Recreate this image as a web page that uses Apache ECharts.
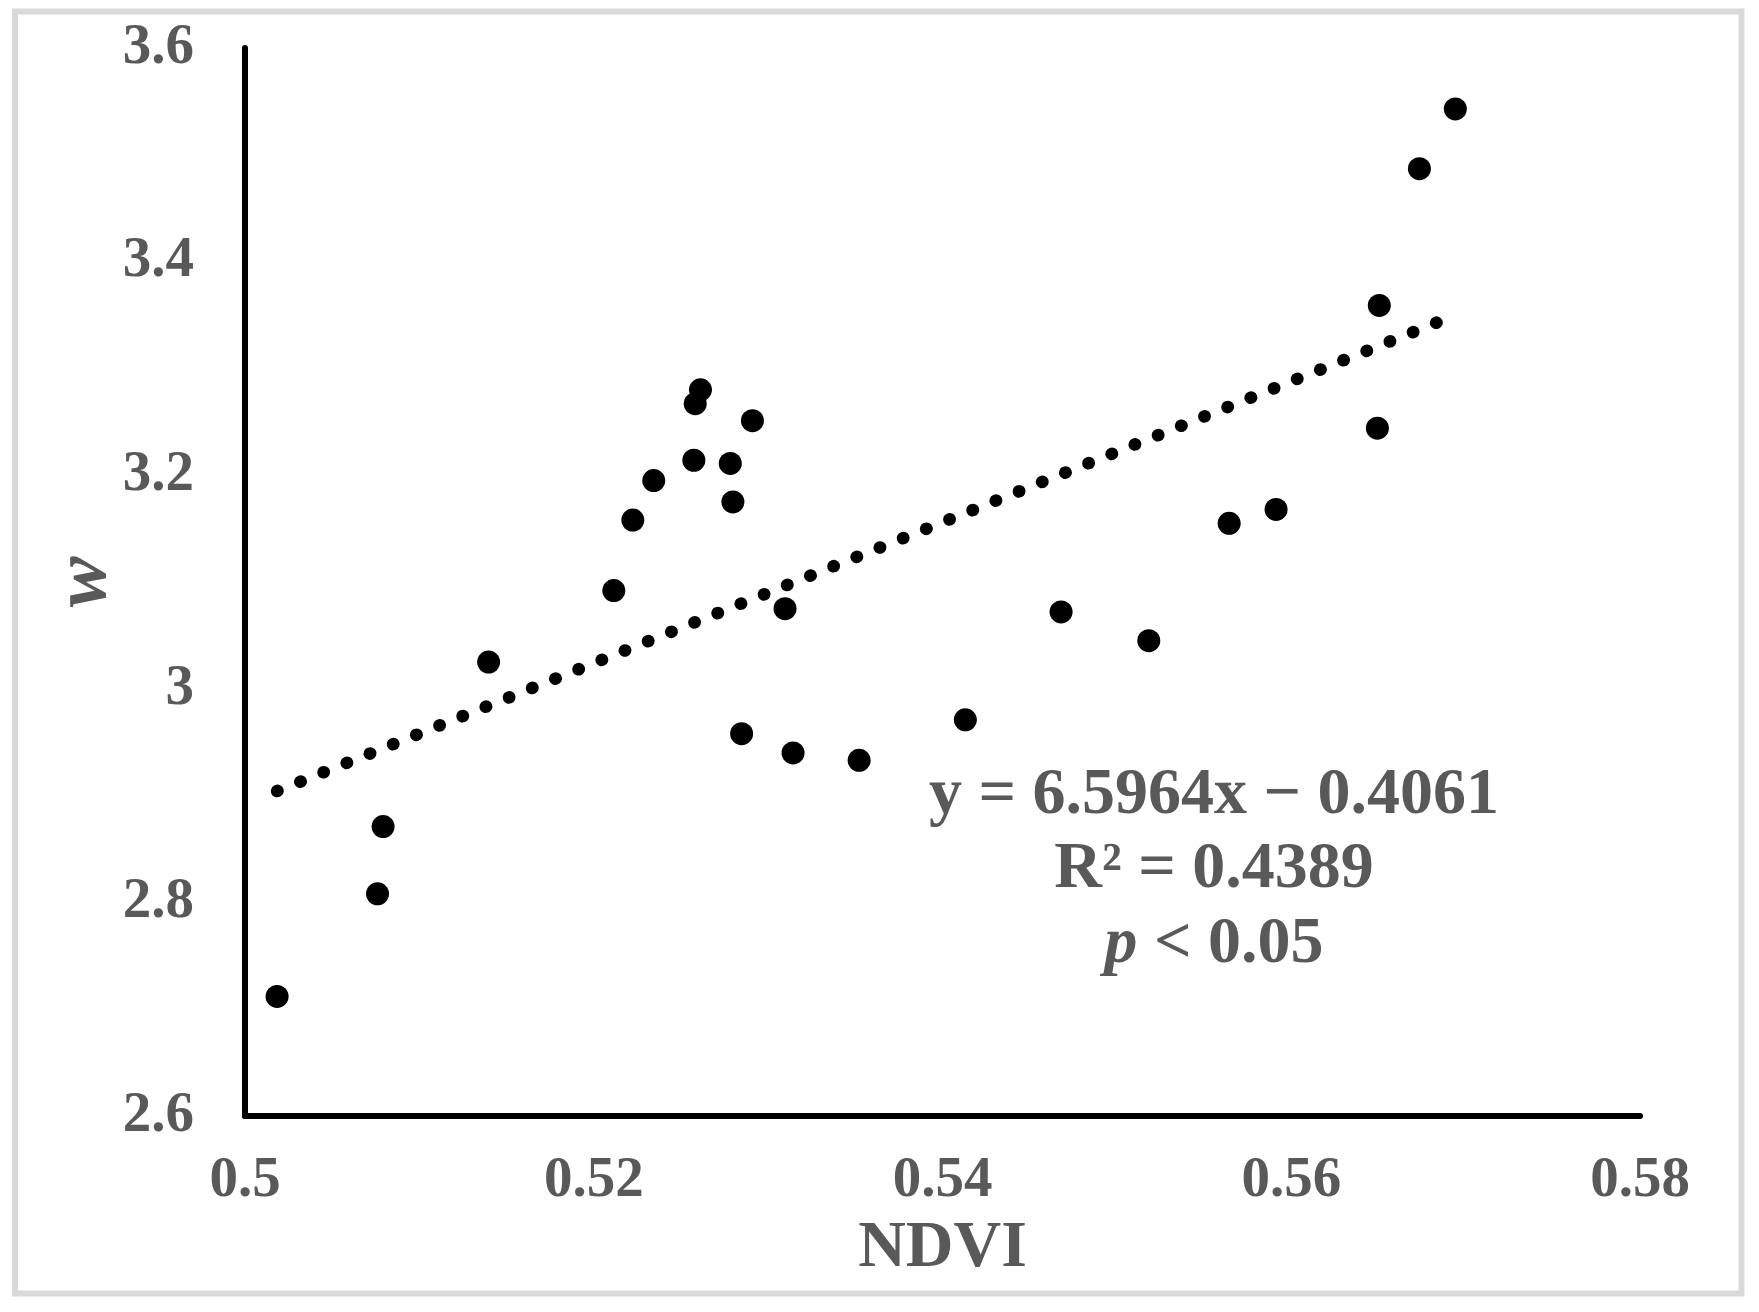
<!DOCTYPE html>
<html>
<head>
<meta charset="utf-8">
<script src="https://cdn.jsdelivr.net/npm/echarts@6/dist/echarts.min.js"></script>
<style>
  html, body { margin: 0; padding: 0; background: #ffffff; }
  #chart { width: 1759px; height: 1312px; }
</style>
</head>
<body>
<div id="chart"></div>
<script>
// ---- data ----
const ndvi = [0.50184, 0.50760, 0.50792, 0.51397, 0.52115, 0.52224, 0.52344, 0.52574, 0.52582, 0.52612,
              0.52783, 0.52798, 0.52848, 0.52910, 0.53097, 0.53143, 0.53522, 0.54131, 0.54680, 0.55183,
              0.55644, 0.55913, 0.56494, 0.56505, 0.56735, 0.56941];
const wValues = [2.712, 2.808, 2.871, 3.025, 3.092, 3.158, 3.195, 3.214, 3.267, 3.280,
                 3.211, 3.175, 2.958, 3.251, 3.075, 2.940, 2.933, 2.971, 3.072, 3.045,
                 3.155, 3.168, 3.244, 3.359, 3.487, 3.543];
const xTicks = [0.5, 0.52, 0.54, 0.56, 0.58];
const yTicks = [2.6, 2.8, 3.0, 3.2, 3.4, 3.6];
const slope = 6.5964;
const intercept = -0.4061;
const annotationLines = ['y = 6.5964x \u2212 0.4061', 'R\u00b2 = 0.4389', '{i|p} < 0.05'];
const xName = 'NDVI';
const yName = 'w';

// ---- build ----
const points = ndvi.map((x, i) => [x, wValues[i]]);
const xMin = Math.min(...ndvi), xMax = Math.max(...ndvi);
const trend = [[xMin, slope * xMin + intercept], [xMax, slope * xMax + intercept]];

const FONT = '"Liberation Serif", "Times New Roman", serif';
const GREY = '#595959';

const chart = echarts.init(document.getElementById('chart'), null, { renderer: 'canvas' });
const annY = [796, 870, 945];
chart.setOption({
  animation: false,
  backgroundColor: '#ffffff',
  grid: { left: 245, right: 119, top: 48, bottom: 196, containLabel: false },
  xAxis: {
    type: 'value',
    min: xTicks[0], max: xTicks[xTicks.length - 1], interval: xTicks[1] - xTicks[0],
    name: xName, nameLocation: 'middle', nameGap: 100, nameMoveOverlap: false,
    nameTextStyle: { fontFamily: FONT, fontWeight: 'bold', fontSize: 66, color: GREY },
    axisLine: { show: true, onZero: false, lineStyle: { color: '#000000', width: 6 } },
    axisTick: { show: false },
    splitLine: { show: false },
    axisLabel: { fontFamily: FONT, fontWeight: 'bold', fontSize: 57, color: GREY, margin: 37,
                 showMinLabel: true, showMaxLabel: true }
  },
  yAxis: {
    type: 'value',
    min: yTicks[0], max: yTicks[yTicks.length - 1], interval: 0.2,
    name: yName, nameLocation: 'middle', nameGap: 122, nameRotate: 90, nameMoveOverlap: false,
    nameTextStyle: { fontFamily: FONT, fontWeight: 'bold', fontStyle: 'italic', fontSize: 76, color: GREY },
    axisLine: { show: true, onZero: false, lineStyle: { color: '#000000', width: 6 } },
    axisTick: { show: false },
    splitLine: { show: false },
    axisLabel: { fontFamily: FONT, fontWeight: 'bold', fontSize: 57, color: GREY, margin: 51,
                 showMinLabel: true, showMaxLabel: true }
  },
  series: [
    {
      type: 'line',
      data: trend,
      showSymbol: false,
      symbol: 'none',
      z: 2,
      lineStyle: { color: '#000000', width: 12.5, type: [0.5, 24.5], cap: 'round', opacity: 1 }
    },
    {
      type: 'scatter',
      data: points,
      symbol: 'circle',
      symbolSize: 23,
      z: 3,
      itemStyle: { color: '#000000', opacity: 1 }
    }
  ],
  graphic: [
    { type: 'rect', shape: { x: 15, y: 11.5, width: 1726.5, height: 1282 },
      style: { fill: 'none', stroke: '#d9d9d9', lineWidth: 6 }, silent: true },
    ...annotationLines.map((t, i) => ({
      type: 'text', x: 1214, y: annY[i], silent: true,
      style: {
        text: t, fill: GREY, fontFamily: FONT, fontWeight: 'bold', fontSize: 66,
        align: 'center', verticalAlign: 'middle',
        rich: { i: { fontStyle: 'italic', fontWeight: 'bold', fontFamily: FONT, fontSize: 66, fill: GREY } }
      }
    }))
  ]
});
</script>
</body>
</html>
